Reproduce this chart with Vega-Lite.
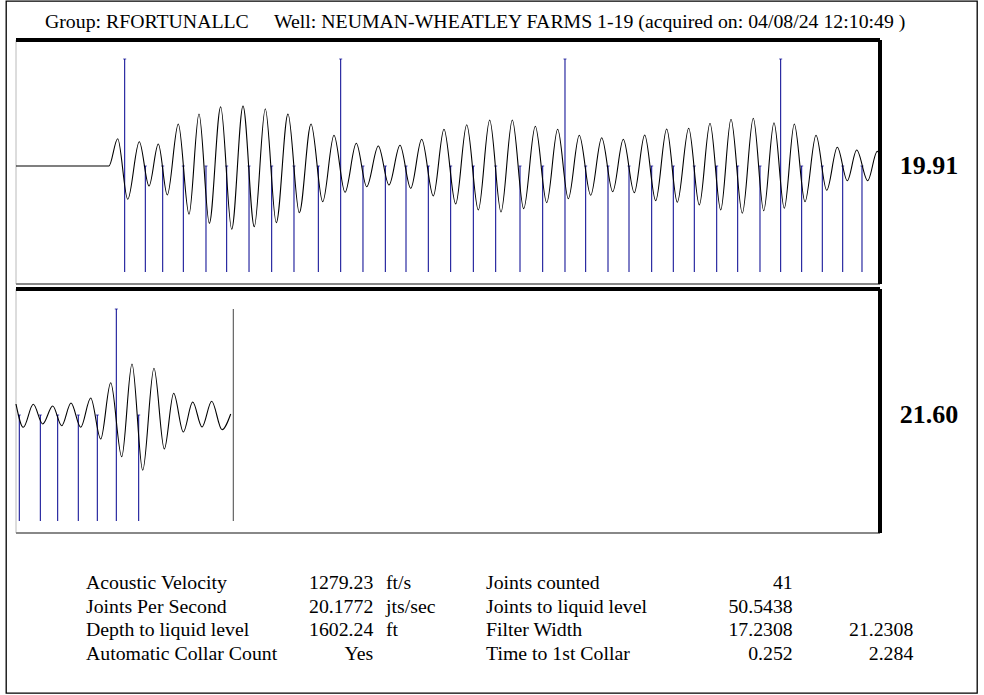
{
  "$schema": "https://vega.github.io/schema/vega-lite/v6.json",
  "width": 971,
  "height": 692,
  "autosize": "none",
  "padding": {"left": 6, "top": 1, "right": 7, "bottom": 2},
  "background": "white",
  "config": {"view": {"stroke": "black", "strokeWidth": 1.3}, "font": "Liberation Serif"},
  "datasets": {
    "wave1": [
      {"t": 0, "a": 0}, {"t": 215, "a": 0}, {"t": 235.4, "a": 27.3}, {"t": 258.6, "a": -33.3},
      {"t": 285.4, "a": 24.3}, {"t": 307.9, "a": -20}, {"t": 329.4, "a": 22}, {"t": 350.2, "a": -29},
      {"t": 375.7, "a": 42}, {"t": 400.5, "a": -48.3}, {"t": 423.6, "a": 52}, {"t": 447.5, "a": -57.3},
      {"t": 473.8, "a": 59.3}, {"t": 499.3, "a": -63.3}, {"t": 525.5, "a": 60}, {"t": 551.6, "a": -60.7},
      {"t": 577.1, "a": 57.3}, {"t": 602.5, "a": -56.7}, {"t": 629.6, "a": 52}, {"t": 655.8, "a": -46.7},
      {"t": 682.9, "a": 42}, {"t": 710, "a": -35.7}, {"t": 736.1, "a": 30.7}, {"t": 761.6, "a": -26.3},
      {"t": 787.7, "a": 22.7}, {"t": 811.8, "a": -20.7}, {"t": 838.7, "a": 20}, {"t": 863.4, "a": -19},
      {"t": 888.9, "a": 20.7}, {"t": 913.7, "a": -22.3}, {"t": 939.1, "a": 26.7}, {"t": 966, "a": -30},
      {"t": 990.7, "a": 36.7}, {"t": 1017.8, "a": -38}, {"t": 1043.3, "a": 41.3}, {"t": 1070.2, "a": -44},
      {"t": 1096.5, "a": 46}, {"t": 1122.7, "a": -46}, {"t": 1148.9, "a": 46}, {"t": 1175.2, "a": -42.7},
      {"t": 1202.1, "a": 39.7}, {"t": 1228.5, "a": -36.7}, {"t": 1253.9, "a": 36.7}, {"t": 1278.5, "a": -32.7},
      {"t": 1303.9, "a": 30.7}, {"t": 1330.3, "a": -29.3}, {"t": 1355.8, "a": 28.3}, {"t": 1381.3, "a": -25.7},
      {"t": 1405.8, "a": 26.7}, {"t": 1431.2, "a": -26.7}, {"t": 1455.3, "a": 31}, {"t": 1480.8, "a": -34.7},
      {"t": 1506.2, "a": 37}, {"t": 1530.8, "a": -36.3}, {"t": 1557.2, "a": 37.7}, {"t": 1581.7, "a": -39},
      {"t": 1606.5, "a": 42.7}, {"t": 1631.3, "a": -44}, {"t": 1655.1, "a": 46.7}, {"t": 1681.3, "a": -47.3},
      {"t": 1706.7, "a": 47.7}, {"t": 1730.8, "a": -44.7}, {"t": 1754.6, "a": 43.3}, {"t": 1778.5, "a": -42.3},
      {"t": 1801.6, "a": 42}, {"t": 1826.4, "a": -35.7}, {"t": 1851.9, "a": 30.7}, {"t": 1876.6, "a": -24.3},
      {"t": 1901.2, "a": 18.7}, {"t": 1924.3, "a": -14.7}, {"t": 1946.1, "a": 16}, {"t": 1971.5, "a": -14.7},
      {"t": 1993.7, "a": 14.7}, {"t": 2000, "a": 9.3}
    ],
    "wave2": [
      {"t": 2000, "a": 11}, {"t": 2016.9, "a": -12.3}, {"t": 2040, "a": 10.7}, {"t": 2061.8, "a": -9},
      {"t": 2085, "a": 9}, {"t": 2105.8, "a": -10.7}, {"t": 2127.3, "a": 12}, {"t": 2149.8, "a": -12.3},
      {"t": 2172.9, "a": 17}, {"t": 2196.1, "a": -24}, {"t": 2219.2, "a": 32.3}, {"t": 2244.7, "a": -41.7},
      {"t": 2268.5, "a": 51}, {"t": 2293.3, "a": -55.3}, {"t": 2319.4, "a": 46.7}, {"t": 2343.3, "a": -34},
      {"t": 2365, "a": 21.7}, {"t": 2387.3, "a": -17}, {"t": 2409, "a": 13}, {"t": 2430.6, "a": -12},
      {"t": 2453, "a": 13.7}, {"t": 2476.9, "a": -14.7}, {"t": 2497, "a": 1}
    ],
    "collars": [
      {"t": 251.6, "kind": "tall"}, {"t": 299.3, "kind": "short"}, {"t": 339.6, "kind": "short"},
      {"t": 387.3, "kind": "short"}, {"t": 439.8, "kind": "short"}, {"t": 487.7, "kind": "short"},
      {"t": 539.4, "kind": "short"}, {"t": 591.9, "kind": "short"}, {"t": 643.5, "kind": "short"},
      {"t": 699.8, "kind": "short"}, {"t": 751.6, "kind": "tall"}, {"t": 803.2, "kind": "short"},
      {"t": 854.9, "kind": "short"}, {"t": 902.8, "kind": "short"}, {"t": 954.4, "kind": "short"},
      {"t": 1006.2, "kind": "short"}, {"t": 1058.6, "kind": "short"}, {"t": 1110.4, "kind": "short"},
      {"t": 1166.7, "kind": "short"}, {"t": 1219.2, "kind": "short"}, {"t": 1270.8, "kind": "tall"},
      {"t": 1318.7, "kind": "short"}, {"t": 1370.4, "kind": "short"}, {"t": 1419, "kind": "short"},
      {"t": 1471.5, "kind": "short"}, {"t": 1521.5, "kind": "short"}, {"t": 1570.1, "kind": "short"},
      {"t": 1622, "kind": "short"}, {"t": 1670.6, "kind": "short"}, {"t": 1722.2, "kind": "short"},
      {"t": 1770.1, "kind": "tall"}, {"t": 1818.7, "kind": "short"}, {"t": 1866.4, "kind": "short"},
      {"t": 1913.7, "kind": "short"}, {"t": 1958.3, "kind": "short"},
      {"t": 2007.6, "kind": "short"}, {"t": 2056.3, "kind": "short"}, {"t": 2096.5, "kind": "short"},
      {"t": 2144.2, "kind": "short"}, {"t": 2188.2, "kind": "short"}, {"t": 2232.2, "kind": "tall"},
      {"t": 2284, "kind": "short"}
    ],
    "level": [{"t": 2503}],
    "gains": [{"panel": 1, "gain": "19.91"}, {"panel": 2, "gain": "21.60"}],
    "table": [
      {"row": 0, "col": 1, "text": "Group: RFORTUNALLC"},
      {"row": 0, "col": 2, "text": "Well: NEUMAN-WHEATLEY FARMS 1-19 (acquired on: 04/08/24 12:10:49 )"},
      {"row": 1, "col": 3, "text": "Acoustic Velocity"},
      {"row": 1, "col": 4, "text": "1279.23"},
      {"row": 1, "col": 5, "text": "ft/s"},
      {"row": 1, "col": 6, "text": "Joints counted"},
      {"row": 1, "col": 7, "text": "41"},
      {"row": 2, "col": 3, "text": "Joints Per Second"},
      {"row": 2, "col": 4, "text": "20.1772"},
      {"row": 2, "col": 5, "text": "jts/sec"},
      {"row": 2, "col": 6, "text": "Joints to liquid level"},
      {"row": 2, "col": 7, "text": "50.5438"},
      {"row": 3, "col": 3, "text": "Depth to liquid level"},
      {"row": 3, "col": 4, "text": "1602.24"},
      {"row": 3, "col": 5, "text": "ft"},
      {"row": 3, "col": 6, "text": "Filter Width"},
      {"row": 3, "col": 7, "text": "17.2308"},
      {"row": 3, "col": 8, "text": "21.2308"},
      {"row": 4, "col": 3, "text": "Automatic Collar Count"},
      {"row": 4, "col": 4, "text": "Yes"},
      {"row": 4, "col": 6, "text": "Time to 1st Collar"},
      {"row": 4, "col": 7, "text": "0.252"},
      {"row": 4, "col": 8, "text": "2.284"}
    ]
  },
  "layer": [
    {
      "layer": [
        {
          "data": {"name": "wave1"},
          "mark": {"type": "rule", "color": "#dcdcdc", "strokeWidth": 1},
          "encoding": {
            "x": {"datum": 0, "type": "quantitative", "scale": {"domain": [0, 2000], "range": [10, 874], "zero": false, "nice": false}, "axis": null},
            "y": {"datum": -118, "type": "quantitative", "scale": {"domain": [-118, 126], "range": [283, 39], "zero": false, "nice": false}, "axis": null},
            "y2": {"datum": 126}
          }
        },
        {
          "data": {"name": "wave1"},
          "mark": {"type": "rule", "color": "#888888", "strokeWidth": 1.5},
          "encoding": {
            "x": {"datum": 0, "type": "quantitative"},
            "x2": {"datum": 2000},
            "y": {"datum": -118, "type": "quantitative"}
          }
        },
        {
          "data": {"name": "wave1"},
          "mark": {"type": "rule", "color": "black", "strokeWidth": 2.5},
          "encoding": {
            "x": {"datum": 0, "type": "quantitative"},
            "x2": {"datum": 2000},
            "y": {"datum": 126, "type": "quantitative"}
          }
        },
        {
          "data": {"name": "wave1"},
          "mark": {"type": "rule", "color": "black", "strokeWidth": 3},
          "encoding": {
            "x": {"datum": 2000, "type": "quantitative"},
            "y": {"datum": -118, "type": "quantitative"},
            "y2": {"datum": 126}
          }
        },
        {
          "data": {"name": "collars"},
          "transform": [{"filter": "datum.t < 2000"}],
          "mark": {"type": "rule", "color": "#00008f", "strokeWidth": 1},
          "encoding": {
            "x": {"field": "t", "type": "quantitative"},
            "y": {"datum": 0, "type": "quantitative"},
            "y2": {"datum": -106}
          }
        },
        {
          "data": {"name": "collars"},
          "transform": [{"filter": "datum.t < 2000 && datum.kind == 'tall'"}],
          "mark": {"type": "rule", "color": "#00008f", "strokeWidth": 1},
          "encoding": {
            "x": {"field": "t", "type": "quantitative"},
            "y": {"datum": 107, "type": "quantitative"},
            "y2": {"datum": 0}
          }
        },
        {
          "data": {"name": "collars"},
          "transform": [{"filter": "datum.t < 2000 && datum.kind == 'short'"}],
          "mark": {"type": "tick", "orient": "horizontal", "color": "#00008f", "size": 3, "thickness": 1},
          "encoding": {
            "x": {"field": "t", "type": "quantitative"},
            "y": {"datum": 0, "type": "quantitative"}
          }
        },
        {
          "data": {"name": "collars"},
          "transform": [{"filter": "datum.t < 2000 && datum.kind == 'tall'"}],
          "mark": {"type": "tick", "orient": "horizontal", "color": "#00008f", "size": 3, "thickness": 1},
          "encoding": {
            "x": {"field": "t", "type": "quantitative"},
            "y": {"datum": 107, "type": "quantitative"}
          }
        },
        {
          "data": {"name": "wave1"},
          "mark": {"type": "line", "color": "black", "strokeWidth": 1.1, "interpolate": "monotone"},
          "encoding": {
            "x": {"field": "t", "type": "quantitative"},
            "y": {"field": "a", "type": "quantitative"}
          }
        },
        {
          "data": {"name": "gains"},
          "transform": [{"filter": "datum.panel == 1"}],
          "mark": {"type": "text", "font": "Liberation Serif", "fontWeight": "bold", "fontSize": 26, "align": "center", "baseline": "middle", "dx": 49, "color": "black"},
          "encoding": {
            "x": {"datum": 2000, "type": "quantitative"},
            "y": {"datum": 0, "type": "quantitative"},
            "text": {"field": "gain"}
          }
        }
      ]
    },
    {
      "layer": [
        {
          "data": {"name": "wave2"},
          "mark": {"type": "rule", "color": "#dcdcdc", "strokeWidth": 1},
          "encoding": {
            "x": {"datum": 2000, "type": "quantitative", "scale": {"domain": [2000, 4000], "range": [10, 874], "zero": false, "nice": false}, "axis": null},
            "y": {"datum": -118, "type": "quantitative", "scale": {"domain": [-118, 126], "range": [532, 288], "zero": false, "nice": false}, "axis": null},
            "y2": {"datum": 126}
          }
        },
        {
          "data": {"name": "wave2"},
          "mark": {"type": "rule", "color": "#888888", "strokeWidth": 1.5},
          "encoding": {
            "x": {"datum": 2000, "type": "quantitative"},
            "x2": {"datum": 4000},
            "y": {"datum": -118, "type": "quantitative"}
          }
        },
        {
          "data": {"name": "wave2"},
          "mark": {"type": "rule", "color": "black", "strokeWidth": 3},
          "encoding": {
            "x": {"datum": 2000, "type": "quantitative"},
            "x2": {"datum": 4000},
            "y": {"datum": 126, "type": "quantitative"}
          }
        },
        {
          "data": {"name": "wave2"},
          "mark": {"type": "rule", "color": "black", "strokeWidth": 3},
          "encoding": {
            "x": {"datum": 4000, "type": "quantitative"},
            "y": {"datum": -118, "type": "quantitative"},
            "y2": {"datum": 126}
          }
        },
        {
          "data": {"name": "collars"},
          "transform": [{"filter": "datum.t >= 2000"}],
          "mark": {"type": "rule", "color": "#00008f", "strokeWidth": 1},
          "encoding": {
            "x": {"field": "t", "type": "quantitative"},
            "y": {"datum": 0, "type": "quantitative"},
            "y2": {"datum": -106}
          }
        },
        {
          "data": {"name": "collars"},
          "transform": [{"filter": "datum.t >= 2000 && datum.kind == 'tall'"}],
          "mark": {"type": "rule", "color": "#00008f", "strokeWidth": 1},
          "encoding": {
            "x": {"field": "t", "type": "quantitative"},
            "y": {"datum": 106, "type": "quantitative"},
            "y2": {"datum": 0}
          }
        },
        {
          "data": {"name": "collars"},
          "transform": [{"filter": "datum.t >= 2000 && datum.kind == 'short'"}],
          "mark": {"type": "tick", "orient": "horizontal", "color": "#00008f", "size": 3, "thickness": 1},
          "encoding": {
            "x": {"field": "t", "type": "quantitative"},
            "y": {"datum": 0, "type": "quantitative"}
          }
        },
        {
          "data": {"name": "collars"},
          "transform": [{"filter": "datum.t >= 2000 && datum.kind == 'tall'"}],
          "mark": {"type": "tick", "orient": "horizontal", "color": "#00008f", "size": 3, "thickness": 1},
          "encoding": {
            "x": {"field": "t", "type": "quantitative"},
            "y": {"datum": 106, "type": "quantitative"}
          }
        },
        {
          "data": {"name": "level"},
          "mark": {"type": "rule", "color": "#444444", "strokeWidth": 1},
          "encoding": {
            "x": {"field": "t", "type": "quantitative"},
            "y": {"datum": 106, "type": "quantitative"},
            "y2": {"datum": -106}
          }
        },
        {
          "data": {"name": "wave2"},
          "mark": {"type": "line", "color": "black", "strokeWidth": 1.1, "interpolate": "monotone"},
          "encoding": {
            "x": {"field": "t", "type": "quantitative"},
            "y": {"field": "a", "type": "quantitative"}
          }
        },
        {
          "data": {"name": "gains"},
          "transform": [{"filter": "datum.panel == 2"}],
          "mark": {"type": "text", "font": "Liberation Serif", "fontWeight": "bold", "fontSize": 26, "align": "center", "baseline": "middle", "dx": 49, "color": "black"},
          "encoding": {
            "x": {"datum": 4000, "type": "quantitative"},
            "y": {"datum": 0, "type": "quantitative"},
            "text": {"field": "gain"}
          }
        }
      ]
    },
    {
      "data": {"name": "table"},
      "layer": [
        {
          "transform": [{"filter": "indexof([4, 7, 8], datum.col) < 0"}],
          "mark": {"type": "text", "font": "Liberation Serif", "fontSize": 19.8, "align": "left", "baseline": "alphabetic", "color": "black"},
          "encoding": {
            "x": {"field": "col", "type": "quantitative", "scale": {"domain": [1, 2, 3, 4, 5, 6, 7, 8], "range": [39, 268, 80, 367.3, 380, 480, 786.7, 907.3], "zero": false, "nice": false}, "axis": null},
            "y": {"field": "row", "type": "quantitative", "scale": {"domain": [0, 1, 4], "range": [27, 588, 658.5], "zero": false, "nice": false}, "axis": null},
            "text": {"field": "text"}
          }
        },
        {
          "transform": [{"filter": "indexof([4, 7, 8], datum.col) >= 0"}],
          "mark": {"type": "text", "font": "Liberation Serif", "fontSize": 19.8, "align": "right", "baseline": "alphabetic", "color": "black"},
          "encoding": {
            "x": {"field": "col", "type": "quantitative"},
            "y": {"field": "row", "type": "quantitative"},
            "text": {"field": "text"}
          }
        }
      ]
    }
  ],
  "resolve": {"scale": {"x": "independent", "y": "independent"}}
}
